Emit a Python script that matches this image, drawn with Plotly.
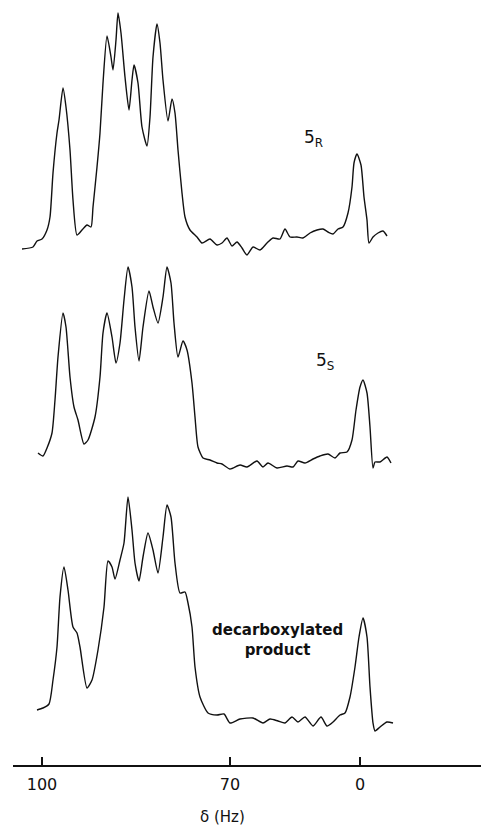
import plotly.graph_objects as go

# Position along the (broken) shift axis, in axis units
tick_pos = [42, 230, 360]
tick_labels = ["100", "70", "0"]

# Spectrum 5R
x_r = [22, 33, 37, 42, 47, 50, 53, 57, 59, 63, 66, 70, 73, 77, 82, 87, 91, 93, 97, 100,
       103, 107, 111, 113, 116, 118, 121, 125, 129, 132, 134, 138, 142, 147, 150, 153, 157,
       160, 163, 168, 172, 175, 178, 182, 185, 190, 197, 202, 210, 217, 222, 227, 232, 237,
       242, 247, 253, 260, 267, 273, 280, 285, 290, 297, 303, 310, 317, 323, 328, 333, 338,
       343, 348, 352, 354, 357, 361, 364, 367, 369, 373, 378, 383, 387]
y_r = [249, 247, 241, 239, 230, 217, 173, 133, 120, 88, 107, 150, 200, 235, 230, 225, 227,
       207, 167, 133, 83, 36, 57, 70, 40, 13, 33, 77, 110, 80, 65, 83, 127, 146, 117, 57, 24,
       43, 80, 121, 99, 113, 150, 193, 217, 230, 237, 243, 239, 245, 243, 238, 246, 242, 248,
       255, 247, 250, 243, 238, 239, 229, 237, 237, 238, 233, 230, 229, 232, 234, 229, 227,
       213, 187, 163, 154, 165, 197, 220, 243, 237, 233, 231, 236]

# Spectrum 5S
x_s = [38, 43, 47, 52, 55, 58, 63, 66, 70, 74, 78, 84, 88, 95, 100, 103, 107, 112, 116, 120,
       124, 128, 132, 135, 139, 143, 149, 153, 158, 163, 167, 171, 174, 178, 183, 187, 192,
       195, 198, 203, 210, 217, 222, 230, 240, 247, 257, 263, 268, 277, 287, 293, 298, 305,
       313, 320, 328, 335, 340, 347, 352, 356, 360, 363, 367, 370, 373, 375, 380, 387, 391]
y_s = [453, 456, 448, 433, 400, 357, 313, 327, 377, 407, 420, 444, 440, 417, 377, 333, 313,
       337, 363, 343, 300, 267, 287, 327, 361, 327, 291, 307, 323, 297, 267, 283, 323, 357,
       341, 350, 383, 417, 447, 458, 460, 463, 464, 469, 465, 467, 461, 467, 463, 468, 466,
       467, 461, 463, 459, 456, 454, 458, 453, 452, 440, 410, 387, 380, 393, 427, 468, 462,
       462, 457, 463]

# Spectrum decarboxylated product
x_d = [37, 43, 49, 53, 57, 60, 64, 68, 73, 77, 80, 87, 92, 98, 104, 108, 112, 115, 120, 124,
       128, 132, 135, 139, 143, 148, 153, 158, 163, 167, 171, 175, 180, 185, 188, 192, 195,
       200, 208, 217, 224, 230, 240, 253, 263, 270, 278, 285, 292, 298, 305, 313, 321, 327,
       333, 340, 345, 350, 355, 359, 363, 367, 370, 373, 375, 380, 387, 393]
y_d = [710, 708, 704, 680, 647, 597, 567, 590, 627, 633, 647, 688, 680, 650, 607, 561, 567,
       579, 560, 543, 497, 530, 563, 581, 557, 533, 550, 573, 537, 505, 517, 563, 593, 592,
       603, 627, 667, 697, 713, 715, 714, 723, 719, 718, 723, 719, 721, 723, 717, 722, 717,
       726, 717, 726, 722, 715, 713, 697, 667, 637, 618, 637, 687, 723, 731, 727, 722, 723]

# Baselines of the three stacked panels (intensity = baseline - trace level)
base_r, base_s, base_d = 260, 480, 740
int_r = [base_r - v for v in y_r]
int_s = [base_s - v for v in y_s]
int_d = [base_d - v for v in y_d]

W = 481
H = 828


def py(p):
    """window pixel row -> paper fraction"""
    return 1 - p / H


line = dict(color="#111111", width=1.4, shape="spline", smoothing=0.6)
fig = go.Figure()
fig.add_trace(go.Scatter(x=x_r, y=int_r, mode="lines", line=line, yaxis="y", xaxis="x"))
fig.add_trace(go.Scatter(x=x_s, y=int_s, mode="lines", line=line, yaxis="y2", xaxis="x"))
fig.add_trace(go.Scatter(x=x_d, y=int_d, mode="lines", line=line, yaxis="y3", xaxis="x"))

font = "DejaVu Sans, Arial, sans-serif"
hidden = dict(visible=False, fixedrange=True)
fig.update_layout(
    width=W, height=H,
    margin=dict(l=0, r=0, t=0, b=0),
    paper_bgcolor="white", plot_bgcolor="white",
    showlegend=False,
    xaxis=dict(domain=[13 / W, 1], range=[13, 481], anchor="free",
               position=py(765), showgrid=False, zeroline=False, fixedrange=True,
               showline=True, linecolor="#111111", linewidth=1.6,
               ticks="inside", ticklen=8, tickwidth=1.4, tickcolor="#111111",
               tickvals=tick_pos, ticktext=tick_labels, ticklabelstandoff=4,
               tickfont=dict(family=font, size=16, color="#111111")),
    yaxis=dict(domain=[py(260), 1], range=[0, 260], **hidden),
    yaxis2=dict(domain=[py(480), py(260)], range=[0, 220], **hidden),
    yaxis3=dict(domain=[py(740), py(480)], range=[0, 260], **hidden),
)

common = dict(xref="x", yref="paper", showarrow=False, xanchor="center", yanchor="middle")
fig.add_annotation(x=313, y=py(139), text="5<sub>R</sub>",
                   font=dict(family=font, size=17, color="#111111"), **common)
fig.add_annotation(x=325, y=py(362), text="5<sub>S</sub>",
                   font=dict(family=font, size=17, color="#111111"), **common)
fig.add_annotation(x=277, y=py(640), text="<b>decarboxylated<br>product</b>",
                   font=dict(family=font, size=15, color="#111111"), **common)
fig.add_annotation(x=222, y=py(817), text="δ (Hz)",
                   font=dict(family=font, size=15, color="#111111"), **common)

fig.write_html("out.html",
               config={"displayModeBar": False, "staticPlot": True},
               post_script="document.body.style.margin='0';document.body.style.overflow='hidden';")
